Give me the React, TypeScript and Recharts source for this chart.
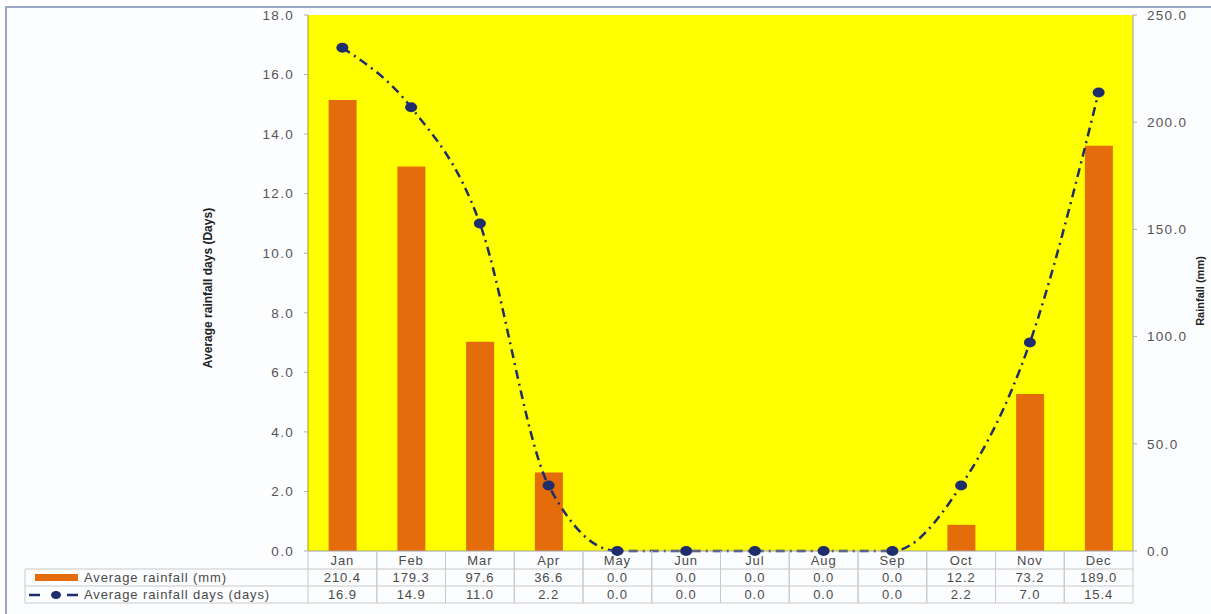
import React from 'react';
import {
    ComposedChart,
    Bar,
    Line,
    XAxis,
    YAxis,
    CartesianGrid,
} from 'recharts';

// Monthly climate summary
const months = ['Jan', 'Feb', 'Mar', 'Apr', 'May', 'Jun', 'Jul', 'Aug', 'Sep', 'Oct', 'Nov', 'Dec'];
const rainfallMm = [210.4, 179.3, 97.6, 36.6, 0.0, 0.0, 0.0, 0.0, 0.0, 12.2, 73.2, 189.0];
const rainfallDays = [16.9, 14.9, 11.0, 2.2, 0.0, 0.0, 0.0, 0.0, 0.0, 2.2, 7.0, 15.4];
const daysTicks = [0, 2, 4, 6, 8, 10, 12, 14, 16, 18];
const mmTicks = [0, 50, 100, 150, 200, 250];

const W = 1211;
const H = 614;
const PLOT_LEFT = 308;
const PLOT_RIGHT = 1133;
const PLOT_TOP = 15;
const PLOT_BOTTOM = 551;
const COL_W = (PLOT_RIGHT - PLOT_LEFT) / months.length;
const ROW_1 = 569;
const ROW_2 = 586;
const TABLE_BOTTOM = 603;
const LABEL_LEFT = 25;

const BAR_COLOR = '#e46c0a';
const LINE_COLOR = '#1f2d6b';
const GRID_COLOR = '#c9c9c9';
const TEXT_COLOR = '#4a4a4a';
const FONT = '"Liberation Sans", Arial, sans-serif';
const TITLE_FONT = '"Liberation Sans Narrow", "Liberation Sans", Arial';

const chartData = months.map((m, i) => ({
    month: m,
    mm: rainfallMm[i],
    days: rainfallDays[i],
}));

const textStyle = { fontFamily: FONT, fontSize: 13, letterSpacing: 0.9, fill: TEXT_COLOR };
const axisTickStyle = { fontFamily: FONT, fontSize: 13.5, letterSpacing: 1.3, fill: '#555' };

// x-axis ticks double as the data table columns under the plot
const TableTick = (props: any) => {
    const { x, payload } = props;
    const i = payload.index;
    const left = x - COL_W / 2;
    const right = x + COL_W / 2;
    return (
        <g>
            <line x1={left} x2={left} y1={PLOT_BOTTOM} y2={TABLE_BOTTOM} stroke={GRID_COLOR} />
            <line x1={right} x2={right} y1={PLOT_BOTTOM} y2={TABLE_BOTTOM} stroke={GRID_COLOR} />
            <line x1={left} x2={right} y1={ROW_1} y2={ROW_1} stroke={GRID_COLOR} />
            <line x1={left} x2={right} y1={ROW_2} y2={ROW_2} stroke={GRID_COLOR} />
            <line x1={left} x2={right} y1={TABLE_BOTTOM} y2={TABLE_BOTTOM} stroke={GRID_COLOR} />
            <text x={x} y={565} textAnchor="middle" style={textStyle}>{payload.value}</text>
            <text x={x} y={582} textAnchor="middle" style={textStyle}>{rainfallMm[i].toFixed(1)}</text>
            <text x={x} y={599} textAnchor="middle" style={textStyle}>{rainfallDays[i].toFixed(1)}</text>
            {i === 0 && (
                <g>
                    <line x1={LABEL_LEFT} x2={left} y1={ROW_1} y2={ROW_1} stroke={GRID_COLOR} />
                    <line x1={LABEL_LEFT} x2={left} y1={ROW_2} y2={ROW_2} stroke={GRID_COLOR} />
                    <line x1={LABEL_LEFT} x2={left} y1={TABLE_BOTTOM} y2={TABLE_BOTTOM} stroke={GRID_COLOR} />
                    <line x1={LABEL_LEFT} x2={LABEL_LEFT} y1={ROW_1} y2={TABLE_BOTTOM} stroke={GRID_COLOR} />
                    <rect x={35} y={574} width={43} height={7} fill={BAR_COLOR} />
                    <text x={84} y={582} style={textStyle}>Average rainfall (mm)</text>
                    <line x1={29} x2={40} y1={595} y2={595} stroke={LINE_COLOR} strokeWidth={2.5} />
                    <ellipse cx={56} cy={595} rx={5} ry={4} fill={LINE_COLOR} />
                    <line x1={67} x2={78} y1={595} y2={595} stroke={LINE_COLOR} strokeWidth={2.5} />
                    <text x={84} y={599} style={textStyle}>Average rainfall days (days)</text>
                </g>
            )}
        </g>
    );
};

const LeftTitle = (props: any) => {
    const { viewBox } = props;
    const cx = viewBox.x - 20;
    const cy = viewBox.y + viewBox.height / 2 + 5;
    return (
        <text
            x={cx}
            y={cy}
            transform={`rotate(-90 ${cx} ${cy})`}
            textAnchor="middle"
            dominantBaseline="central"
            style={{ fontFamily: TITLE_FONT, fontSize: 12, fontWeight: 700, fill: '#222' }}
        >
            Average rainfall days (Days)
        </text>
    );
};

const RightTitle = (props: any) => {
    const { viewBox } = props;
    const cx = viewBox.x + viewBox.width + 7;
    const cy = viewBox.y + viewBox.height / 2 + 8;
    return (
        <text
            x={cx}
            y={cy}
            transform={`rotate(-90 ${cx} ${cy})`}
            textAnchor="middle"
            dominantBaseline="central"
            style={{ fontFamily: TITLE_FONT, fontSize: 11, fontWeight: 700, fill: '#222' }}
        >
            Rainfall (mm)
        </text>
    );
};

const DayDot = (props: any) => {
    const { cx, cy, index } = props;
    if (cx == null || cy == null) return null;
    return <ellipse key={`dot-${index}`} cx={cx} cy={cy} rx={6} ry={5} fill={LINE_COLOR} />;
};

const App: React.FC = () => {
    return (
        <div style={{ position: 'absolute', left: 0, top: 0, width: W, height: H, background: '#fff', overflow: 'hidden' }}>
            <div
                style={{
                    position: 'absolute',
                    left: 5,
                    top: 6,
                    width: W,
                    height: H,
                    borderTop: '2px solid #9ba7c6',
                    borderLeft: '2px solid #9ba7c6',
                    background: '#fcfdff',
                }}
            />
            <div style={{ position: 'absolute', left: 0, top: 0 }}>
                <ComposedChart
                    width={W}
                    height={H}
                    data={chartData}
                    margin={{ top: PLOT_TOP, right: W - PLOT_RIGHT - 60, left: PLOT_LEFT - 80, bottom: H - PLOT_BOTTOM - 52 }}
                    barCategoryGap="30%"
                >
                    <CartesianGrid fill="#ffff00" horizontal={false} vertical={false} />
                    <XAxis
                        dataKey="month"
                        height={52}
                        tickLine={false}
                        axisLine={{ stroke: '#a0a0a0' }}
                        tick={<TableTick />}
                        interval={0}
                    />
                    <YAxis
                        yAxisId="days"
                        orientation="left"
                        width={80}
                        domain={[0, 18]}
                        ticks={daysTicks}
                        tickFormatter={(v: number) => v.toFixed(1)}
                        tick={{ ...axisTickStyle }}
                        tickSize={4}
                        tickMargin={10}
                        tickLine={{ stroke: '#b0b0b0' }}
                        axisLine={{ stroke: '#a0a000' }}
                        label={<LeftTitle />}
                    />
                    <YAxis
                        yAxisId="mm"
                        orientation="right"
                        width={60}
                        domain={[0, 250]}
                        ticks={mmTicks}
                        tickFormatter={(v: number) => v.toFixed(1)}
                        tick={{ ...axisTickStyle, textAnchor: 'start' }}
                        tickSize={4}
                        tickMargin={10}
                        tickLine={{ stroke: '#b0b0b0' }}
                        axisLine={{ stroke: '#a0a0a0' }}
                        label={<RightTitle />}
                    />
                    <Bar yAxisId="mm" dataKey="mm" fill={BAR_COLOR} isAnimationActive={false} />
                    <Line
                        yAxisId="days"
                        dataKey="days"
                        type="monotone"
                        stroke={LINE_COLOR}
                        strokeWidth={2.5}
                        strokeDasharray="9 5 2 5"
                        dot={<DayDot />}
                        activeDot={false}
                        isAnimationActive={false}
                    />
                </ComposedChart>
            </div>
        </div>
    );
};

export default App;
